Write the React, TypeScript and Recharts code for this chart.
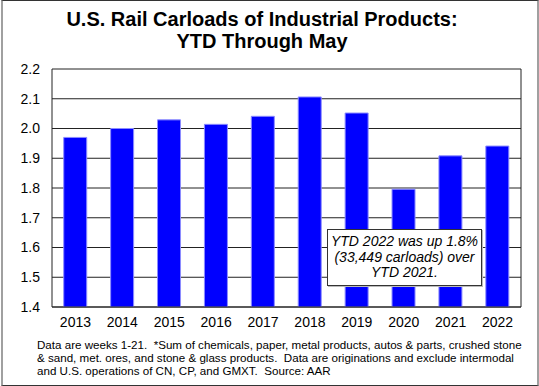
import React from 'react';
import { BarChart, Bar, XAxis, YAxis, CartesianGrid } from 'recharts';

const years = ['2013', '2014', '2015', '2016', '2017', '2018', '2019', '2020', '2021', '2022'];
const carloads = [1.97, 2.0, 2.029, 2.014, 2.041, 2.106, 2.052, 1.796, 1.908, 1.941];
const yTicks = [1.4, 1.5, 1.6, 1.7, 1.8, 1.9, 2.0, 2.1, 2.2];
const titleLines = ['U.S. Rail Carloads of Industrial Products:', 'YTD Through May'];
const noteLines = [
  'Data are weeks 1-21.  *Sum of chemicals, paper, metal products, autos & parts, crushed stone',
  '& sand, met. ores, and stone & glass products.  Data are originations and exclude intermodal',
  'and U.S. operations of CN, CP, and GMXT.  Source: AAR',
];
const annotationLines = ['YTD 2022 was up 1.8%', '(33,449 carloads) over', 'YTD 2021.'];

const data = years.map((y, i) => ({ year: y, value: carloads[i] }));

const font = '"Liberation Sans", Arial, sans-serif';

export default function App() {
  return (
    <div
      style={{
        position: 'fixed',
        left: 0,
        top: 0,
        width: 539,
        height: 386,
        background: '#fff',
        fontFamily: font,
        overflow: 'hidden',
      }}
    >
      <BarChart
        width={539}
        height={386}
        data={data}
        margin={{ top: 69, right: 18, bottom: 49, left: 0 }}
        barCategoryGap="25%"
      >
        <CartesianGrid
          horizontal
          vertical
          verticalPoints={[52, 521]}
          stroke="#222"
          strokeWidth={1}
        />
        <XAxis
          dataKey="year"
          axisLine={{ stroke: '#222' }}
          tickLine={false}
          tickSize={0}
          tickMargin={10}
          height={30}
          tick={{ fill: '#000', fontSize: 14, fontFamily: font }}
          interval={0}
        />
        <YAxis
          domain={[1.4, 2.2]}
          ticks={yTicks}
          allowDataOverflow
          axisLine={false}
          tickLine={false}
          tickSize={0}
          tickMargin={12}
          width={52}
          tick={{ fill: '#000', fontSize: 14, fontFamily: font }}
          tickFormatter={(v: number) => v.toFixed(1)}
        />
        <Bar
          dataKey="value"
          fill="#0000ff"
          stroke="#8c8cff"
          strokeWidth={1}
          isAnimationActive={false}
        />
      </BarChart>

      <div
        style={{
          position: 'absolute',
          left: 0,
          top: 8,
          width: 524,
          textAlign: 'center',
          fontWeight: 'bold',
          fontSize: 20,
          lineHeight: '22px',
          color: '#000',
        }}
      >
        {titleLines.map((t) => (
          <div key={t}>{t}</div>
        ))}
      </div>

      <div
        style={{
          position: 'absolute',
          left: 327,
          top: 229,
          width: 155,
          height: 57,
          boxSizing: 'border-box',
          border: '1px solid #333',
          background: '#fff',
          boxShadow: '1px 1px 0 #bbb',
          display: 'flex',
          flexDirection: 'column',
          justifyContent: 'center',
          alignItems: 'center',
          fontStyle: 'italic',
          fontSize: 14,
          lineHeight: '15.5px',
          color: '#000',
        }}
      >
        {annotationLines.map((t) => (
          <div key={t}>{t}</div>
        ))}
      </div>

      <div
        style={{
          position: 'absolute',
          left: 37,
          top: 337.5,
          fontSize: 11.6,
          lineHeight: '13px',
          whiteSpace: 'pre',
          color: '#000',
        }}
      >
        {noteLines.map((t) => (
          <div key={t}>{t}</div>
        ))}
      </div>

      <div
        style={{
          position: 'absolute',
          left: 1,
          top: 0,
          width: 538,
          height: 386,
          boxSizing: 'border-box',
          borderTop: '1px solid #333',
          borderBottom: '1px solid #333',
          borderLeft: '2px solid #a0a0a0',
          borderRight: '2px solid #a0a0a0',
          pointerEvents: 'none',
        }}
      />
    </div>
  );
}
